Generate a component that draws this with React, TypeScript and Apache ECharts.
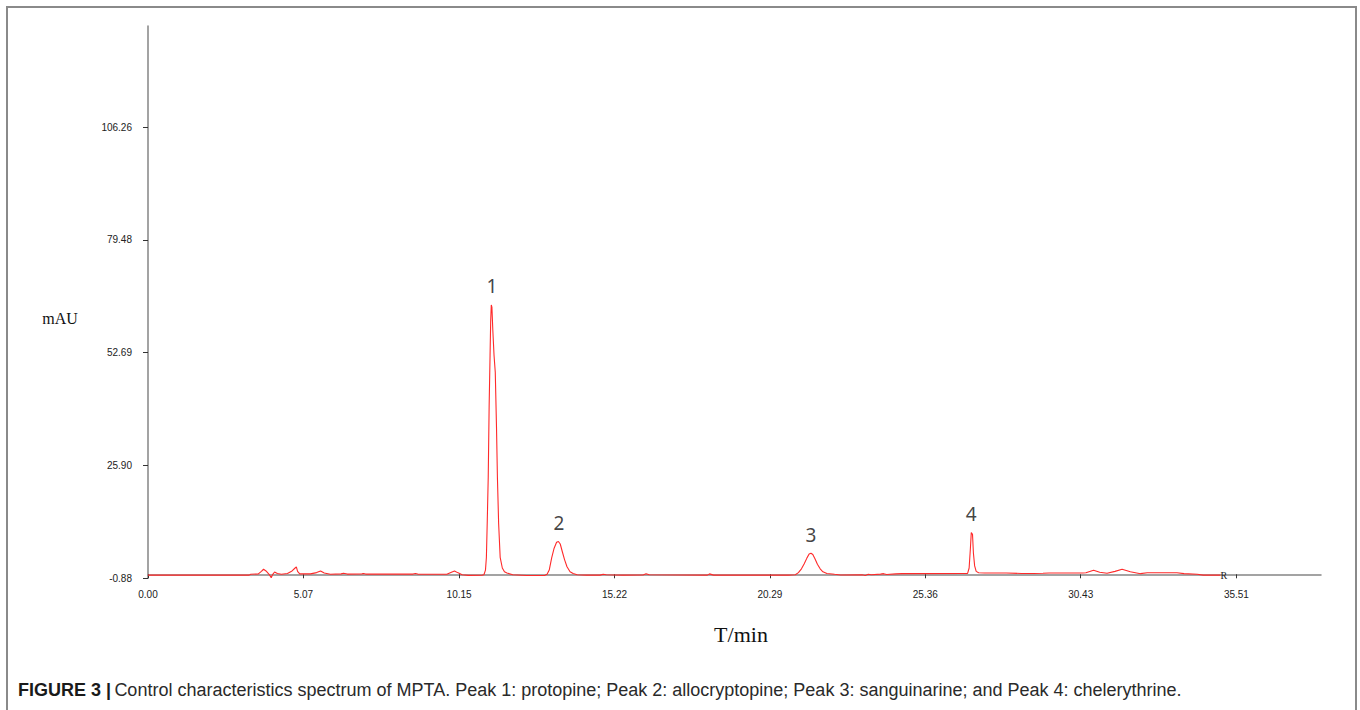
import React, { useEffect, useRef } from "react";
import * as echarts from "echarts";

// Retention time (min)
const times: number[] = [
  0.0, 3.3, 3.35, 3.6, 3.7, 3.77, 3.85, 3.95, 4.02, 4.07, 4.13, 4.22, 4.35, 4.55, 4.7, 4.8, 4.84, 4.88, 4.95,
  5.3, 5.5, 5.63, 5.75, 5.95, 6.3, 6.38, 6.5, 6.98, 7.03, 7.1, 8.65, 8.72, 8.8, 9.75, 9.9, 10.0, 10.1, 10.25,
  10.45, 10.9,
  10.96, 11.01, 11.04, 11.07, 11.1, 11.13, 11.16, 11.18, 11.2, 11.22, 11.25, 11.29, 11.33, 11.37, 11.4, 11.44,
  11.49, 11.56, 11.63, 11.71, 11.9, 12.35,
  12.95, 13.02, 13.09, 13.17, 13.25, 13.33, 13.39, 13.45, 13.52, 13.59, 13.67, 13.77, 13.87, 14.0, 14.3,
  14.75, 14.85, 14.95, 15.5, 16.15, 16.25, 16.35, 18.25, 18.32, 18.45, 20.9,
  21.12, 21.22, 21.32, 21.41, 21.5, 21.57, 21.63, 21.69, 21.76, 21.84, 21.93, 22.02, 22.15, 22.4, 22.6,
  23.3, 23.4, 23.5, 23.6, 23.9, 24.0, 24.1, 24.4, 24.6, 26.6,
  26.74, 26.79, 26.83, 26.86, 26.9, 26.93, 26.97, 27.02, 27.1, 27.3, 28.0, 28.5, 28.9, 29.2, 29.4,
  30.5, 30.6, 30.85, 31.05, 31.29, 31.55, 31.78, 32.05, 32.38, 32.6, 33.57, 33.8, 34.23, 34.43, 34.99,
];

// Absorbance (mAU)
const values: number[] = [
  -0.2, -0.2, 0.0, 0.1, 0.7, 1.2, 0.8, 0.0, -0.8, 0.0, 0.55, 0.2, 0.0, 0.2, 0.8, 1.5, 1.75, 0.7, 0.1,
  0.1, 0.4, 0.8, 0.3, 0.0, 0.1, 0.25, 0.05, 0.1, 0.2, 0.05, 0.05, 0.2, 0.05, 0.0, 0.5, 0.8, 0.4, -0.1,
  -0.25, -0.2,
  -0.1, 1.0, 4, 13, 23, 40, 52, 60, 64.0, 63.5, 58, 52, 48, 35, 23, 12,
  4, 1.5, 0.6, 0.3, -0.1, -0.3,
  -0.25, 0.0, 1.0, 3.9, 6.2, 7.6, 7.8, 7.2, 5.3, 3.5, 1.8, 0.6, 0.2, -0.1, -0.2,
  -0.2, 0.0, -0.1, -0.2, -0.15, 0.15, -0.1, -0.2, 0.1, -0.2, -0.2,
  -0.1, 0.4, 1.3, 2.5, 3.9, 4.8, 5.0, 4.7, 3.7, 2.4, 1.3, 0.6, 0.2, 0.0, -0.15,
  -0.1, -0.3, 0.0, -0.1, 0.05, 0.15, -0.05, 0.1, 0.15, 0.2,
  0.2, 1.5, 6, 9.9, 9.5, 5, 2, 0.7, 0.35, 0.3, 0.3, 0.2, 0.2, 0.25, 0.3,
  0.3, 0.35, 0.95, 0.5, 0.25, 0.7, 1.2, 0.6, 0.15, 0.35, 0.35, 0.15, 0.0, -0.2, -0.2,
];

const peakNames: string[] = ["1", "2", "3", "4"];
const peakTimes: number[] = [11.22, 13.41, 21.63, 26.86];
const peakValues: number[] = [64.0, 7.8, 5.0, 9.9];

const xTickLabels: string[] = ["0.00", "5.07", "10.15", "15.22", "20.29", "25.36", "30.43", "35.51"];
const yTickLabels: string[] = ["-0.88", "25.90", "52.69", "79.48", "106.26"];

const X_MAX = 38.27;
const Y_MIN = -0.88;
const Y_MAX = 130.3;

const caption =
  "Control characteristics spectrum of MPTA. Peak 1: protopine; Peak 2: allocryptopine; Peak 3: sanguinarine; and Peak 4: chelerythrine.";

export default function App() {
  const ref = useRef<HTMLDivElement>(null);

  useEffect(() => {
    if (!ref.current) return;
    const chart = echarts.init(ref.current, null, { renderer: "svg" });

    const xVals = xTickLabels.map((s) => parseFloat(s));
    const yVals = yTickLabels.map((s) => parseFloat(s));
    const lineData = times.map((t, i) => [t, values[i]]);
    const peakData = peakNames.map((n, i) => ({ name: n, value: [peakTimes[i], peakValues[i]] }));

    const axisColor = "#858585";
    const tickFont = { fontFamily: "Liberation Sans, Arial, sans-serif", fontSize: 10, color: "#222" };

    chart.setOption({
      animation: false,
      backgroundColor: "#ffffff",
      grid: { left: 148, right: 39, top: 26, bottom: 132, containLabel: false },
      xAxis: {
        type: "value",
        min: 0,
        max: X_MAX,
        axisLine: { show: true, lineStyle: { color: axisColor, width: 1.5 } },
        axisTick: { show: true, length: 4, lineStyle: { color: "#333", width: 1 }, customValues: xVals },
        axisLabel: {
          ...tickFont,
          margin: 11,
          customValues: xVals,
          formatter: (v: number) => {
            const i = xVals.findIndex((x) => Math.abs(x - v) < 1e-6);
            return i >= 0 ? xTickLabels[i] : "";
          },
        },
        splitLine: { show: false },
      },
      yAxis: {
        type: "value",
        min: Y_MIN,
        max: Y_MAX,
        axisLine: { show: true, lineStyle: { color: axisColor, width: 1.5 } },
        axisTick: { show: true, length: 5, lineStyle: { color: "#333", width: 1 }, customValues: yVals },
        axisLabel: {
          ...tickFont,
          margin: 16,
          customValues: yVals,
          formatter: (v: number) => {
            const i = yVals.findIndex((y) => Math.abs(y - v) < 1e-6);
            return i >= 0 ? yTickLabels[i] : "";
          },
        },
        splitLine: { show: false },
      },
      series: [
        {
          type: "line",
          data: lineData,
          showSymbol: false,
          symbol: "none",
          smooth: false,
          lineStyle: { color: "#ff2a2a", width: 1.1 },
          markPoint: {
            symbol: "circle",
            symbolSize: 0,
            silent: true,
            data: [
              {
                coord: [times[times.length - 1], values[values.length - 1]],
                label: {
                  show: true,
                  formatter: "R",
                  position: "right",
                  distance: 0,
                  fontFamily: "Liberation Serif, serif",
                  fontSize: 10,
                  color: "#222",
                },
              },
            ],
          },
        },
        {
          type: "scatter",
          data: peakData,
          symbolSize: 0,
          silent: true,
          label: {
            show: true,
            position: "top",
            distance: 9,
            formatter: (p: any) => p.name,
            fontFamily: "Noto Sans, Open Sans, sans-serif",
            fontSize: 19,
            color: "#111",
          },
        },
      ],
      graphic: [
        {
          type: "rect",
          shape: { x: 7, y: 7, width: 1349, height: 760 },
          style: { fill: "none", stroke: "#8a8a8a", lineWidth: 2 },
          silent: true,
        },
        {
          type: "text",
          x: 60,
          y: 318,
          style: {
            text: "mAU",
            font: "16px 'Liberation Serif', 'Times New Roman', serif",
            fill: "#111",
            align: "center",
            verticalAlign: "middle",
          },
        },
        {
          type: "text",
          x: 741,
          y: 634,
          style: {
            text: "T/min",
            font: "22px 'Liberation Serif', 'Times New Roman', serif",
            fill: "#111",
            align: "center",
            verticalAlign: "middle",
          },
        },
        {
          type: "text",
          x: 18,
          y: 690,
          style: {
            text: "{b|FIGURE 3 |} {r|" + caption + "}",
            verticalAlign: "middle",
            rich: {
              b: {
                fontFamily: "Liberation Sans, Arial, sans-serif",
                fontWeight: "bold",
                fontSize: 18,
                fill: "#1a1a1a",
              },
              r: {
                fontFamily: "Liberation Sans, Arial, sans-serif",
                fontSize: 18,
                fill: "#2a2a2a",
              },
            },
          },
        },
      ],
    });

    return () => {
      chart.dispose();
    };
  }, []);

  return (
    <div
      ref={ref}
      style={{ position: "absolute", left: 0, top: 0, width: 1360, height: 710, background: "#fff" }}
    />
  );
}
